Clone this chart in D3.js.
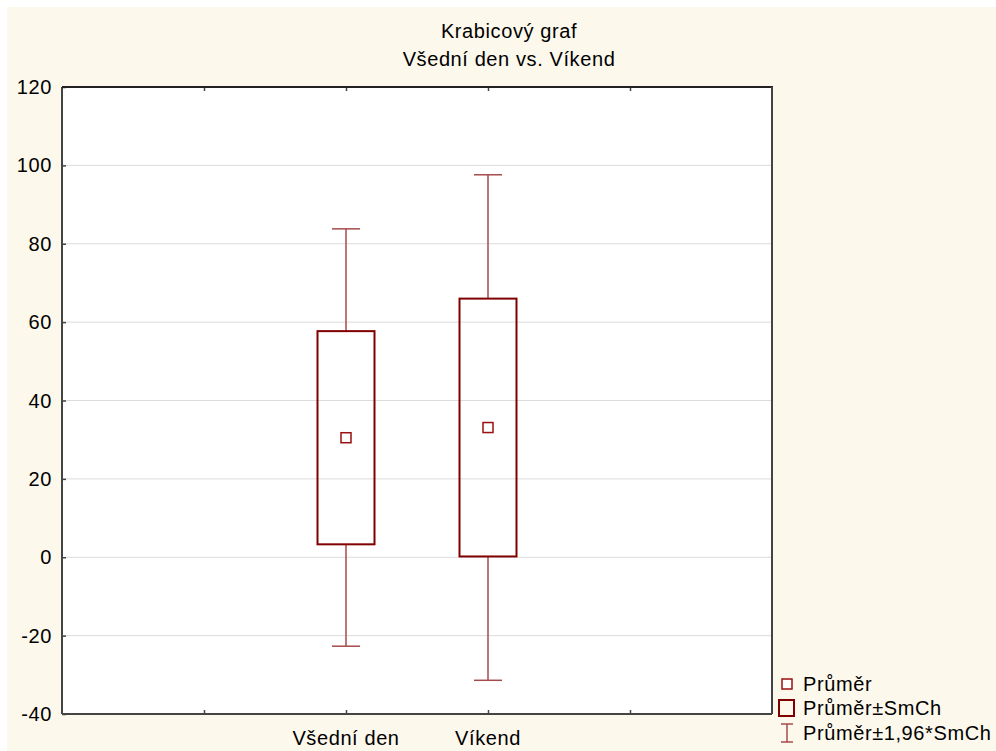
<!DOCTYPE html>
<meta charset="UTF-8">
<script src="https://cdnjs.cloudflare.com/ajax/libs/d3/7.4.4/d3.min.js"></script>
<style>
    body { margin: 0; background: #fff; }
    text { font-family: "Liberation Sans", Arial, sans-serif; font-size: 20px; letter-spacing: 0.6px; }
</style>
<svg id="chart" width="996" height="751"></svg>
<script>
    // values
    let categories = ["Všední den", "Víkend"];
    let means = [30.5, 33.1];
    let seLow = [3.3, 0.2];
    let seHigh = [57.7, 66.0];
    let ciLow = [-22.7, -31.4];
    let ciHigh = [83.8, 97.6];
    let yTicks = [-40, -20, 0, 20, 40, 60, 80, 100, 120];
    let xTicks = [1, 2, 3, 4];
    let titleLines = ["Krabicový graf", "Všední den vs. Víkend"];
    let legendLabels = ["Průměr", "Průměr±SmCh", "Průměr±1,96*SmCh"];

    let svg = d3.select("svg");
    let width = +svg.attr("width"),
        height = +svg.attr("height");
    let pLeft = 62, pRight = 772, pTop = 87, pBottom = 714;
    let dark = "#800000", whisk = "#a64b4b";

    svg.append("rect")
        .attr("x", 7).attr("y", 7)
        .attr("width", width - 7).attr("height", height - 7)
        .style("fill", "#fdf8ec");

    svg.append("rect")
        .attr("x", pLeft).attr("y", pTop)
        .attr("width", pRight - pLeft).attr("height", pBottom - pTop)
        .style("fill", "#fff");

    let x = d3.scaleLinear().domain([0, 5]).range([pLeft, pRight]);
    let y = d3.scaleLinear().domain([-40, 120]).range([pBottom, pTop]);

    // grid
    svg.append("g")
        .selectAll("line")
        .data(yTicks.slice(1, -1))
        .enter().append("line")
        .attr("x1", pLeft).attr("x2", pRight)
        .attr("y1", d => y(d)).attr("y2", d => y(d))
        .style("stroke", "#dcdcdc")
        .style("stroke-width", 1);

    // axes (ticks pointing inward)
    let yAxis = svg.append("g")
        .attr("transform", "translate(" + pLeft + ",0)")
        .call(d3.axisRight(y).tickValues(yTicks).tickSize(4).tickFormat(""));
    let xAxisB = svg.append("g")
        .attr("transform", "translate(0," + pBottom + ")")
        .call(d3.axisTop(x).tickValues(xTicks).tickSize(4).tickFormat(""));
    let xAxisT = svg.append("g")
        .attr("transform", "translate(0," + pTop + ")")
        .call(d3.axisBottom(x).tickValues(xTicks).tickSize(4).tickFormat(""));
    [yAxis, xAxisB, xAxisT].forEach(function (g) {
        g.select(".domain").remove();
        g.selectAll("line").style("stroke", "#444").style("stroke-width", 1.5);
    });

    // frame
    svg.append("line").attr("x1", pLeft).attr("x2", pLeft).attr("y1", pTop).attr("y2", pBottom)
        .style("stroke", "#444").style("stroke-width", 2);
    svg.append("line").attr("x1", pLeft).attr("x2", pRight).attr("y1", pBottom).attr("y2", pBottom)
        .style("stroke", "#444").style("stroke-width", 2);
    svg.append("line").attr("x1", pLeft).attr("x2", pRight + 1).attr("y1", pTop).attr("y2", pTop)
        .style("stroke", "#222").style("stroke-width", 2);
    svg.append("line").attr("x1", pRight).attr("x2", pRight).attr("y1", pTop).attr("y2", pBottom)
        .style("stroke", "#444").style("stroke-width", 2);

    // y labels
    svg.append("g")
        .selectAll("text")
        .data(yTicks)
        .enter().append("text")
        .attr("x", pLeft - 10)
        .attr("y", d => y(d) + 7)
        .style("text-anchor", "end")
        .style("fill", "#000")
        .text(d => d);

    // x labels
    svg.append("g")
        .selectAll("text")
        .data(categories)
        .enter().append("text")
        .attr("x", (d, i) => x(i + 2))
        .attr("y", 745)
        .style("text-anchor", "middle")
        .style("fill", "#000")
        .text(d => d);

    // title
    svg.append("g")
        .selectAll("text")
        .data(titleLines)
        .enter().append("text")
        .attr("x", 509)
        .attr("y", (d, i) => 38 + i * 28)
        .style("text-anchor", "middle")
        .style("fill", "#000")
        .text(d => d);

    // boxes
    let boxW = 57, capW = 28, mk = 10;
    let groups = svg.append("g")
        .selectAll("g")
        .data(categories)
        .enter().append("g");

    groups.append("line")
        .attr("x1", (d, i) => x(i + 2)).attr("x2", (d, i) => x(i + 2))
        .attr("y1", (d, i) => y(ciHigh[i])).attr("y2", (d, i) => y(seHigh[i]))
        .style("stroke", whisk).style("stroke-width", 1.5);
    groups.append("line")
        .attr("x1", (d, i) => x(i + 2)).attr("x2", (d, i) => x(i + 2))
        .attr("y1", (d, i) => y(seLow[i])).attr("y2", (d, i) => y(ciLow[i]))
        .style("stroke", whisk).style("stroke-width", 1.5);
    groups.append("line")
        .attr("x1", (d, i) => x(i + 2) - capW / 2).attr("x2", (d, i) => x(i + 2) + capW / 2)
        .attr("y1", (d, i) => y(ciHigh[i])).attr("y2", (d, i) => y(ciHigh[i]))
        .style("stroke", whisk).style("stroke-width", 1.5);
    groups.append("line")
        .attr("x1", (d, i) => x(i + 2) - capW / 2).attr("x2", (d, i) => x(i + 2) + capW / 2)
        .attr("y1", (d, i) => y(ciLow[i])).attr("y2", (d, i) => y(ciLow[i]))
        .style("stroke", whisk).style("stroke-width", 1.5);
    groups.append("rect")
        .attr("x", (d, i) => x(i + 2) - boxW / 2)
        .attr("y", (d, i) => y(seHigh[i]))
        .attr("width", boxW)
        .attr("height", (d, i) => y(seLow[i]) - y(seHigh[i]))
        .style("fill", "none").style("stroke", dark).style("stroke-width", 2);
    groups.append("rect")
        .attr("x", (d, i) => x(i + 2) - mk / 2)
        .attr("y", (d, i) => y(means[i]) - mk / 2)
        .attr("width", mk).attr("height", mk)
        .style("fill", "#fff").style("stroke", "#9a0f0f").style("stroke-width", 1.5);

    // legend
    let lg = svg.append("g");
    let ly = [684, 708, 733];
    lg.append("rect").attr("x", 782).attr("y", ly[0] - 5).attr("width", 10).attr("height", 10)
        .style("fill", "#fff").style("stroke", "#9a0f0f").style("stroke-width", 1.5);
    lg.append("rect").attr("x", 779).attr("y", ly[1] - 8).attr("width", 15).attr("height", 16)
        .style("fill", "none").style("stroke", dark).style("stroke-width", 2);
    lg.append("line").attr("x1", 787).attr("x2", 787).attr("y1", ly[2] - 9).attr("y2", ly[2] + 9)
        .style("stroke", whisk).style("stroke-width", 1.5);
    lg.append("line").attr("x1", 781).attr("x2", 793).attr("y1", ly[2] - 9).attr("y2", ly[2] - 9)
        .style("stroke", whisk).style("stroke-width", 1.5);
    lg.append("line").attr("x1", 781).attr("x2", 793).attr("y1", ly[2] + 9).attr("y2", ly[2] + 9)
        .style("stroke", whisk).style("stroke-width", 1.5);
    lg.selectAll("text")
        .data(legendLabels)
        .enter().append("text")
        .attr("x", 803)
        .attr("y", (d, i) => ly[i] + 7)
        .style("fill", "#000")
        .text(d => d);
</script>
